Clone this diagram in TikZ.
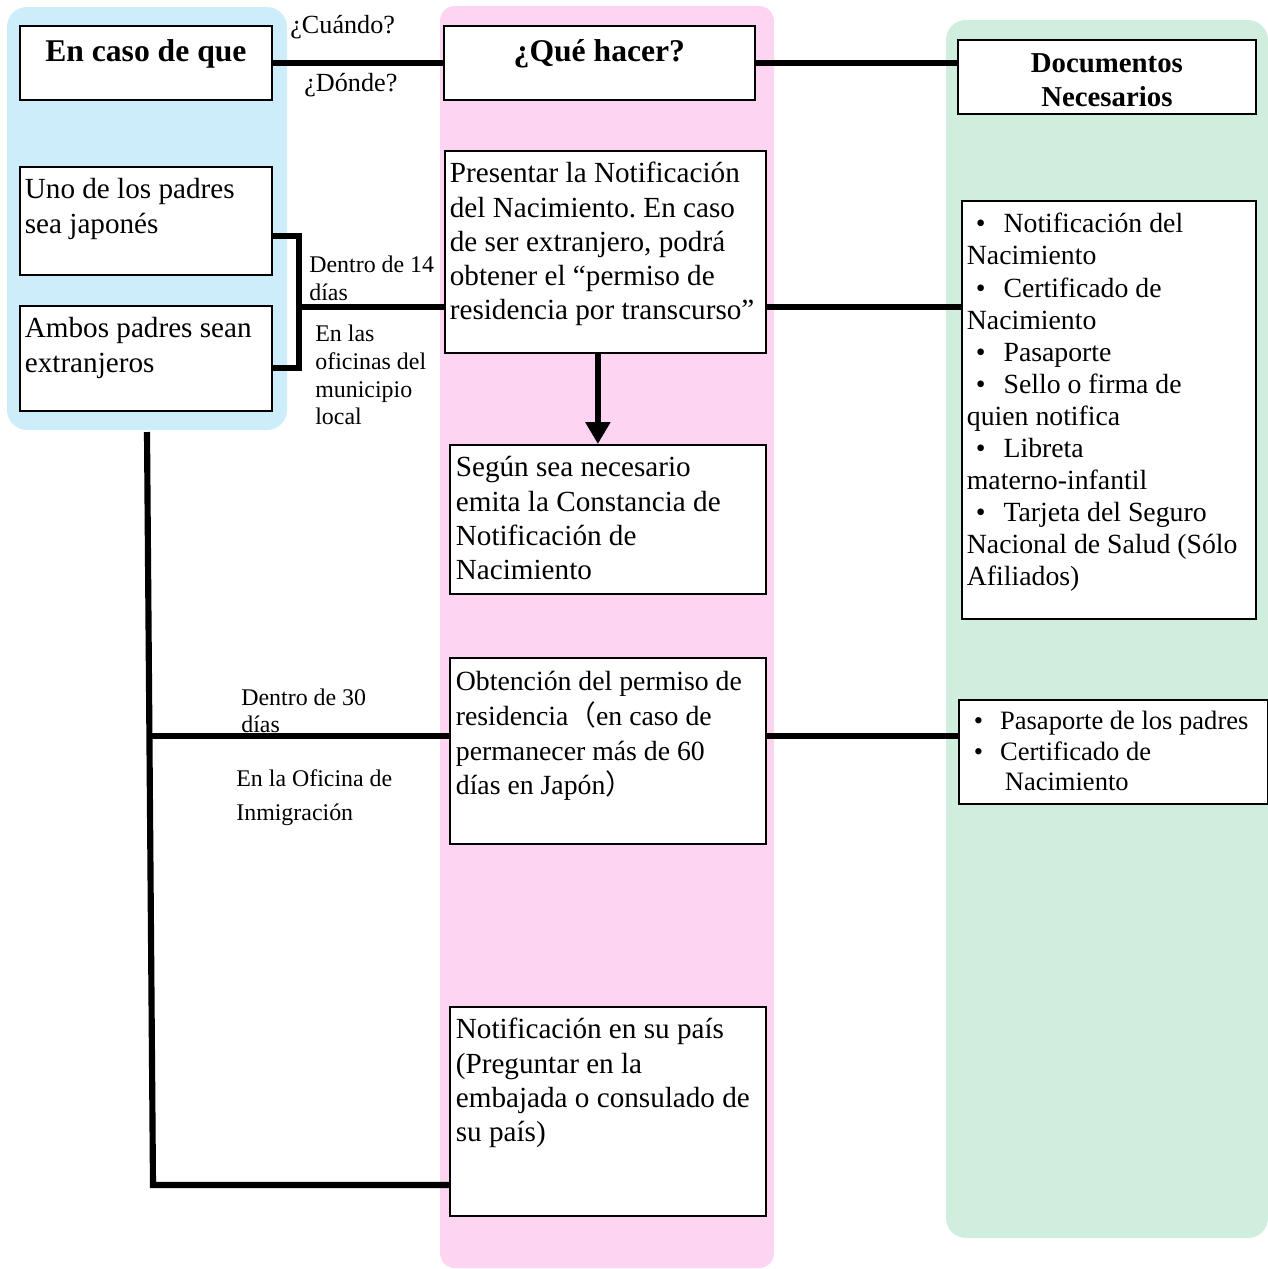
\documentclass[tikz,border=0pt]{standalone}
\usepackage{fontspec}
\setmainfont{Liberation Serif}
\newfontfamily\cjk{Noto Sans CJK JP}
\usetikzlibrary{arrows.meta}
\frenchspacing

\newdimen\pxu \pxu=0.02cm
% text cell: width, height, first baseline, text
\newcommand{\cell}[4]{\parbox[t][#2\pxu][t]{#1\pxu}{\raggedright\rule{0pt}{#3\pxu}#4}}
\newcommand{\fs}[2]{\fontsize{#1}{#2}\selectfont}

\definecolor{panelblue}{RGB}{205,237,250}
\definecolor{panelpink}{RGB}{253,213,242}
\definecolor{panelgreen}{RGB}{207,238,221}

\tikzset{
  box/.style={draw, line width=1pt, fill=white, anchor=north west, inner ysep=0pt, inner xsep=5\pxu},
  body/.style={font=\fs{16.6}{19.45}},
  head/.style={font=\bfseries\fs{18}{21}},
  conn/.style={line width=3.5pt},
  lbl/.style={anchor=north west, inner sep=0pt, align=left},
}

\begin{document}
\begin{tikzpicture}[x=0.02cm, y=-0.02cm]
\useasboundingbox (0,0) rectangle (1268,1269);

% column panels
\fill[panelblue, rounded corners=20\pxu] (7,7) rectangle (287,430);
\fill[panelpink, rounded corners=15\pxu] (440,6) rectangle (774,1268);
\fill[panelgreen, rounded corners=20\pxu] (946,20) rectangle (1268,1238);

% headers
\node[box, head] (head1) at (19,25) {\cell{242}{74}{35.5}{\centering En caso de que}};
\node[box, head] (head2) at (443,25) {\cell{301}{74}{35.5}{\centering ¿Qué hacer?}};
\node[box, head, font=\bfseries\fs{16.4}{19.3}] (head3) at (957,39) {\cell{288}{74}{33}{\centering Documentos\\Necesarios}};

% cases
\node[box, body] (uno) at (19,166) {\cell{242}{108}{32}{Uno de los padres\\sea japonés}};
\node[box, body] (ambos) at (19,305) {\cell{242}{105}{32}{Ambos padres sean\\extranjeros}};

% steps
\node[box, body] (pres) at (444,150) {\cell{311}{202}{32}{Presentar la Notificación\\del Nacimiento. En caso\\de ser extranjero, podrá\\obtener el “permiso de\\residencia por transcurso”}};
\node[box, body, inner xsep=6\pxu] (seg) at (449,444) {\cell{304}{149}{32}{Según sea necesario\\emita la Constancia de\\Notificación de\\Nacimiento}};
\node[box, body, inner xsep=6\pxu, font=\fs{15.8}{19.7}] (obt) at (449,657) {\cell{304}{186}{33}{Obtención del permiso de\\residencia{\cjk （}en caso de\\permanecer más de 60\\días en Japón{\cjk ）}}};
\node[box, body, inner xsep=6\pxu] (pais) at (449,1006) {\cell{304}{209}{32}{Notificación en su país\\(Preguntar en la\\embajada o consulado de\\su país)}};

% documents
\node[box, font=\fs{15.8}{18.25}] (docsA) at (961,200) {\cell{284}{418}{32}{\hspace*{9\pxu}•\hspace{18\pxu}Notificación del\\Nacimiento\\\hspace*{9\pxu}•\hspace{18\pxu}Certificado de\\Nacimiento\\\hspace*{9\pxu}•\hspace{18\pxu}Pasaporte\\\hspace*{9\pxu}•\hspace{18\pxu}Sello o firma de\\quien notifica\\\hspace*{9\pxu}•\hspace{18\pxu}Libreta\\materno-infantil\\\hspace*{9\pxu}•\hspace{18\pxu}Tarjeta del Seguro\\Nacional de Salud (Sólo\\Afiliados)}};
\node[box, font=\fs{15.1}{17.3}] (docsB) at (958,699) {\cell{299}{104}{30}{\hspace*{10\pxu}•\hspace{17\pxu}Pasaporte de los padres\\\hspace*{10\pxu}•\hspace{17\pxu}Certificado de\\\hspace*{41\pxu}Nacimiento}};

% labels
\node[lbl, font=\fs{14.9}{17}] (when) at (290,15) {¿Cuándo?};
\node[lbl, font=\fs{14.9}{17}] (where) at (304,73) {¿Dónde?};
\node[lbl, font=\fs{13.6}{15.9}] (within14) at (309,256) {Dentro de 14\\días};
\node[lbl, font=\fs{13.6}{15.7}] (cityhall) at (315,325) {En las\\oficinas del\\municipio\\local};
\node[lbl, font=\fs{13.6}{15.3}] (within30) at (241,689) {Dentro de 30\\días};
\node[lbl, font=\fs{13.6}{19.8}] (immig) at (236,769) {En la Oficina de\\Inmigración};

% connectors
\coordinate (brk) at (299,307);
\coordinate (drop) at (147,432);
\coordinate (corner) at (153,1185);
\coordinate (fork) at (150,736);

\draw[conn] (head1.east) -- (head2.west);
\draw[conn] (head2.east) -- (head2.east -| head3.west);
\draw[conn] ([yshift=-15\pxu]uno.east) -| (brk) |- ([yshift=-9.5\pxu]ambos.east);
\draw[conn] (brk) -- (brk -| pres.west);
\draw[conn] (pres.east |- brk) -- (docsA.west |- brk);
\draw[conn, -{Triangle[width=0.48cm, length=0.44cm]}] ([xshift=-7.5\pxu]pres.south) -- ([xshift=-7.5\pxu]pres.south |- seg.north);
\draw[conn] (drop) -- (corner) -- (corner -| pais.west);
\draw[conn] (fork) -- (fork -| obt.west);
\draw[conn] (obt.east |- fork) -- (docsB.west |- fork);
\end{tikzpicture}
\end{document}
